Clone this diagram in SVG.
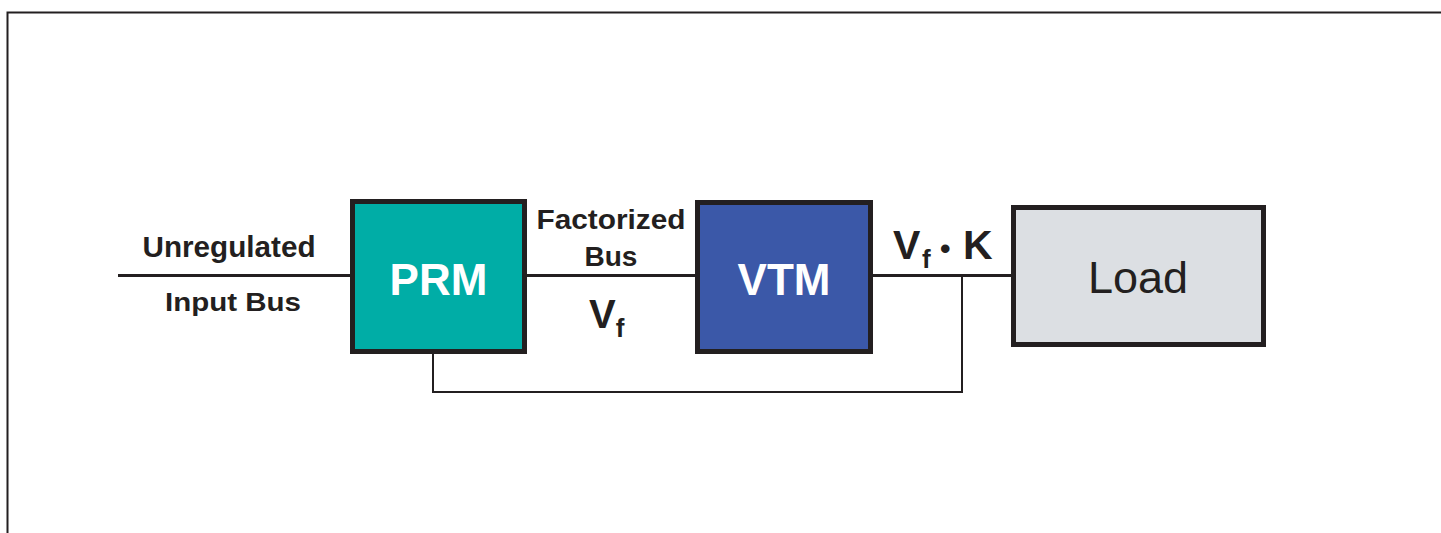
<svg xmlns="http://www.w3.org/2000/svg" width="1441" height="533" viewBox="0 0 1441 533">
<style>
.box{stroke:#231f20;stroke-width:5}
.wire{stroke:#231f20;stroke-width:3;fill:none}
.fb{stroke:#231f20;stroke-width:2;fill:none}
.lbl{font-family:"Liberation Sans",Arial,sans-serif;font-weight:bold;fill:#231f20}
.name{font-family:"Liberation Sans",Arial,sans-serif;font-weight:bold;fill:#fff;font-size:44px;text-anchor:middle}
</style>
<rect width="1441" height="533" fill="#fff"/>
<path d="M7.5 533 V12.5 H1441" fill="none" stroke="#231f20" stroke-width="2"/>
<g id="connectors">
<path class="wire" d="M118 275.5 H350 M527 275.5 H695 M873 275.5 H1011"/>
<path class="fb" d="M962 276 V392 H433 V354"/>
</g>
<g id="prm">
<rect class="box" x="352.5" y="201.5" width="172" height="150" fill="#00ada6"/>
<text class="name" x="438.5" y="295">PRM</text>
</g>
<g id="vtm">
<rect class="box" x="697.5" y="202.5" width="173" height="149" fill="#3b58a8"/>
<text class="name" x="784" y="295">VTM</text>
</g>
<g id="load">
<rect class="box" x="1013.5" y="207.5" width="250" height="137" fill="#dcdfe3"/>
<text x="1138" y="293" font-family="Liberation Sans,Arial,sans-serif" font-size="45" fill="#231f20" text-anchor="middle">Load</text>
</g>
<g id="labels">
<text class="lbl" x="229" y="257" font-size="29" text-anchor="middle" textLength="173" lengthAdjust="spacingAndGlyphs">Unregulated</text>
<text class="lbl" x="233" y="311" font-size="26" text-anchor="middle" textLength="136" lengthAdjust="spacingAndGlyphs">Input Bus</text>
<text class="lbl" x="611" y="229" font-size="28" text-anchor="middle" textLength="149" lengthAdjust="spacingAndGlyphs">Factorized</text>
<text class="lbl" x="611" y="266" font-size="28" text-anchor="middle">Bus</text>
<text class="lbl" x="589" y="328" font-size="40">V<tspan font-size="26" dy="9">f</tspan></text>
<text class="lbl" x="893" y="259" font-size="41">V<tspan font-size="26" x="922" dy="9">f</tspan><tspan x="940" dy="-9" font-size="30">•</tspan><tspan x="963">K</tspan></text>
</g>
</svg>
